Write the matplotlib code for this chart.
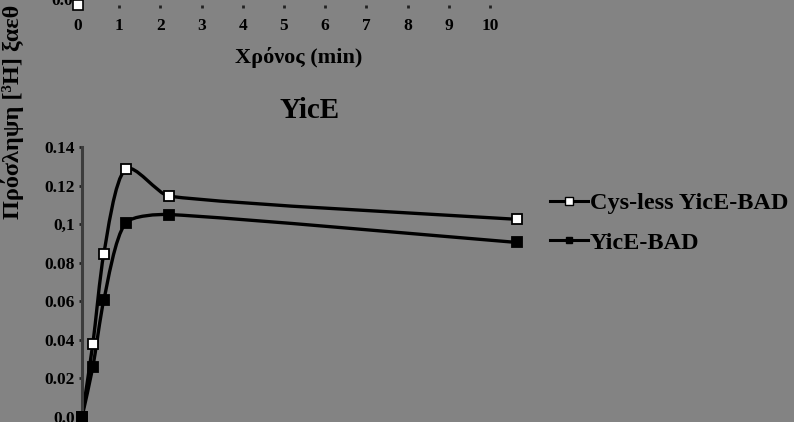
import numpy as np
import matplotlib.pyplot as plt
from matplotlib.path import Path
from matplotlib.patches import PathPatch
from matplotlib.lines import Line2D

# dane
czas = [0, 0.25, 0.5, 1, 2, 10]
cys_less = [0.0, 0.038, 0.0845, 0.1285, 0.1145, 0.1025]
yice_bad = [0.0, 0.026, 0.0605, 0.1005, 0.105, 0.0905]
y_ticks = [0, 0.02, 0.04, 0.06, 0.08, 0.1, 0.12, 0.14]
y_ticklabels = ['0.0', '0.02', '0.04', '0.06', '0.08', '0,1', '0.12', '0.14']
x_ticks_top = list(range(11))

W, H = 794, 422
BG = '#838383'
FONT = 'Liberation Serif'


def smooth_path(ax, x, y):
    # gładka krzywa jak w Excelu, liczona w pikselach (Bezier z ograniczeniem)
    pts = ax.transData.transform(np.column_stack([x, y]).astype(float))
    p = np.vstack([pts[0], pts, pts[-1]])
    verts = [pts[0]]
    codes = [Path.MOVETO]
    for i in range(1, len(p) - 2):
        seg = np.linalg.norm(p[i + 1] - p[i]) * 0.22
        t1 = p[i + 1] - p[i - 1]
        t2 = p[i + 2] - p[i]
        l1 = min(np.linalg.norm(t1) / 6, seg)
        l2 = min(np.linalg.norm(t2) / 6, seg)
        c1 = p[i] + t1 / (np.linalg.norm(t1) + 1e-9) * l1
        c2 = p[i + 1] - t2 / (np.linalg.norm(t2) + 1e-9) * l2
        verts += [c1, c2, p[i + 1]]
        codes += [Path.CURVE4] * 3
    verts = ax.transData.inverted().transform(np.array(verts))
    return Path(verts, codes)


fig = plt.figure(figsize=(W / 100, H / 100), dpi=100, facecolor=BG)

# fragment poprzedniego wykresu u góry
ax_top = fig.add_axes([78 / W, 1 - 5 / H, 412 / W, 0.05])
ax_top.set_facecolor('none')
ax_top.set_xlim(0, 10)
ax_top.set_ylim(0, 1)
for s in ax_top.spines.values():
    s.set_visible(False)
ax_top.set_yticks([])
ax_top.set_xticks(x_ticks_top)
ax_top.set_xticklabels([str(t) for t in x_ticks_top], fontsize=12.5,
                       fontweight='bold', family=FONT)
ax_top.tick_params(axis='x', length=2, width=2, color='#222222', pad=7)
ax_top.plot([0], [0], 's', ms=7, mfc='white', mec='black', mew=1.2, clip_on=False)
fig.text(73 / W, 1 - 1 / H, '0.0', ha='right', va='center', fontsize=12.5,
         fontweight='bold', family=FONT)
fig.text(299 / W, 1 - 57 / H, 'Χρόνος (min)', ha='center', va='center',
         fontsize=16, fontweight='bold', family=FONT)

# główny wykres
ax = fig.add_axes([82 / W, 5 / H, 458 / W, 270 / H])
ax.set_facecolor('none')
ax.set_xlim(0, 458 / 43.5)
ax.set_ylim(0, 0.14)
for k in ['top', 'right', 'bottom']:
    ax.spines[k].set_visible(False)
ax.spines['left'].set_color('#3c3c3c')
ax.spines['left'].set_linewidth(2.2)
ax.set_xticks([])
ax.set_yticks(y_ticks)
ax.set_yticklabels(y_ticklabels, fontsize=12.5, fontweight='bold', family=FONT)
ax.tick_params(axis='y', length=2, width=2, color='#222222', pad=3)

for xs, ys, fc in [(czas, cys_less, 'white'), (czas, yice_bad, 'black')]:
    ax.add_patch(PathPatch(smooth_path(ax, xs, ys), fc='none', ec='black', lw=2.4,
                           clip_on=False, zorder=2))
    ax.plot(xs, ys, 's', ms=6.5, mfc=fc, mec='black', mew=1.3, clip_on=False, zorder=3)

fig.text(310 / W, 1 - 110 / H, 'YicE', ha='center', va='center',
         fontsize=21, fontweight='bold', family=FONT)
fig.text(13 / W, 1 - 112 / H, 'Πρόσληψη [³H] ξαεθ', ha='center', va='center',
         rotation=90, fontsize=17.5, fontweight='bold', family=FONT)

handles = [
    Line2D([], [], color='black', lw=2.2, marker='s', ms=6, mfc='white', mec='black'),
    Line2D([], [], color='black', lw=2.2, marker='s', ms=5, mfc='black', mec='black'),
]
leg = fig.legend(handles, ['Cys-less YicE-BAD', 'YicE-BAD'], loc='center left',
                 bbox_to_anchor=(550 / W, 1 - 223 / H), frameon=False,
                 borderaxespad=0, borderpad=0,
                 handlelength=1.55, handletextpad=0.1, labelspacing=0.72,
                 prop={'family': FONT, 'weight': 'bold', 'size': 17.5})

fig.savefig('out.png', dpi=100, facecolor=BG)
